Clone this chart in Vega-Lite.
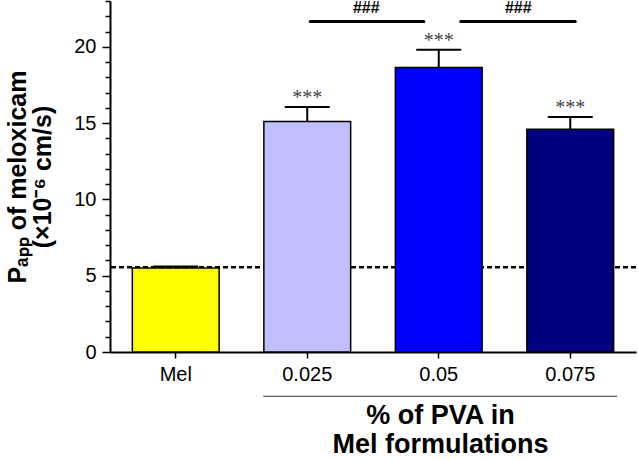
{
  "$schema": "https://vega.github.io/schema/vega-lite/v6.json",
  "width": 526,
  "height": 351,
  "autosize": "none",
  "padding": {"left": 110, "top": 1, "right": 2, "bottom": 109},
  "config": {"view": {"stroke": null}, "font": "Liberation Sans"},
  "datasets": {
    "bars": [
      {"g": "Mel", "v": 5.5, "hi": 5.6},
      {"g": "0.025", "v": 15.1, "hi": 16.05},
      {"g": "0.05", "v": 18.65, "hi": 19.8},
      {"g": "0.075", "v": 14.6, "hi": 15.4}
    ],
    "ref": [{"y": 5.55}],
    "sig1": [{"a": "0.025", "b": "0.05", "y": 21.66, "lab": "###"}],
    "sig2": [{"a": "0.05", "b": "0.075", "y": 21.66, "lab": "###"}],
    "under": [{"a": "0.025", "b": "0.075", "y": -2.9}]
  },
  "resolve": {"axis": {"y": "independent"}},
  "layer": [
    {
      "data": {"name": "ref"},
      "mark": {"type": "rule", "strokeDash": [5, 3], "strokeWidth": 2.5, "color": "black"},
      "encoding": {
        "y": {
          "field": "y", "type": "quantitative", "scale": {"domain": [0, 23], "nice": false},
          "axis": {
            "orient": "left",
            "values": [1,2,3,4,6,7,8,9,11,12,13,14,16,17,18,19,21,22,23],
            "labels": false, "domain": false, "grid": false, "title": null,
            "tickColor": "black", "tickWidth": 1.5, "tickSize": 5
          }
        }
      }
    },
    {
      "data": {"name": "bars"},
      "mark": {"type": "bar", "stroke": "black", "strokeWidth": 1.5},
      "encoding": {
        "x": {
          "field": "g", "type": "nominal",
          "scale": {"domain": ["Mel", "0.025", "0.05", "0.075"], "paddingInner": 0.34, "paddingOuter": 0.17},
          "axis": {
            "labelAngle": 0, "labelFontSize": 20, "labelColor": "black", "labelPadding": 6,
            "domainColor": "black", "domainWidth": 2, "tickColor": "black", "tickWidth": 1.5, "tickSize": 6,
            "title": ["% of PVA in", "Mel formulations"], "titleFontSize": 27, "titleFontWeight": "bold",
            "titleColor": "black", "titleLineHeight": 29, "titleX": 330, "titleY": 50, "titleBaseline": "top"
          }
        },
        "y": {
          "field": "v", "type": "quantitative",
          "axis": {
            "orient": "left",
            "values": [0, 5, 10, 15, 20],
            "labelOverlap": false, "labelFontSize": 20, "labelColor": "black", "labelPadding": 6,
            "grid": false, "domainColor": "black", "domainWidth": 2, "tickColor": "black", "tickWidth": 1.5,
            "tickSize": 8,
            "title": ["Pₐₚₚ of meloxicam", "(×10⁻⁶ cm/s)"], "titleFontSize": 25, "titleFontWeight": "bold",
            "titleColor": "black", "titleLineHeight": 25, "titleX": -80
          }
        },
        "color": {
          "field": "g", "type": "nominal",
          "scale": {"domain": ["Mel", "0.025", "0.05", "0.075"], "range": ["#FFFF00", "#C0C0FF", "#0000FF", "#000080"]},
          "legend": null
        }
      }
    },
    {
      "data": {"name": "bars"},
      "mark": {"type": "rule", "strokeWidth": 2, "color": "black"},
      "encoding": {
        "x": {"field": "g", "type": "nominal"},
        "y": {"field": "v", "type": "quantitative", "axis": null},
        "y2": {"field": "hi"}
      }
    },
    {
      "data": {"name": "bars"},
      "mark": {"type": "tick", "orient": "horizontal", "size": 45, "thickness": 2, "color": "black", "opacity": 1},
      "encoding": {
        "x": {"field": "g", "type": "nominal"},
        "y": {"field": "hi", "type": "quantitative", "axis": null}
      }
    },
    {
      "data": {"name": "bars"},
      "transform": [{"filter": "datum.g != 'Mel'"}],
      "mark": {"type": "text", "text": "***", "fontSize": 20, "font": "Liberation Serif", "color": "#444444", "baseline": "middle", "dy": -9},
      "encoding": {
        "x": {"field": "g", "type": "nominal"},
        "y": {"field": "hi", "type": "quantitative", "axis": null}
      }
    },
    {
      "data": {"name": "sig1"},
      "mark": {"type": "rule", "strokeWidth": 3, "strokeCap": "round", "color": "black", "xOffset": 3, "x2Offset": -15},
      "encoding": {
        "x": {"field": "a", "type": "nominal"},
        "x2": {"field": "b"},
        "y": {"field": "y", "type": "quantitative", "axis": null}
      }
    },
    {
      "data": {"name": "sig2"},
      "mark": {"type": "rule", "strokeWidth": 3, "strokeCap": "round", "color": "black", "xOffset": 22, "x2Offset": 5},
      "encoding": {
        "x": {"field": "a", "type": "nominal"},
        "x2": {"field": "b"},
        "y": {"field": "y", "type": "quantitative", "axis": null}
      }
    },
    {
      "data": {"name": "sig1"},
      "mark": {"type": "text", "fontSize": 16, "fontWeight": "bold", "color": "black", "baseline": "middle", "dy": -13, "dx": 59},
      "encoding": {
        "x": {"field": "a", "type": "nominal"},
        "y": {"field": "y", "type": "quantitative", "axis": null},
        "text": {"field": "lab"}
      }
    },
    {
      "data": {"name": "sig2"},
      "mark": {"type": "text", "fontSize": 16, "fontWeight": "bold", "color": "black", "baseline": "middle", "dy": -13, "dx": 79.5},
      "encoding": {
        "x": {"field": "a", "type": "nominal"},
        "y": {"field": "y", "type": "quantitative", "axis": null},
        "text": {"field": "lab"}
      }
    },
    {
      "data": {"name": "under"},
      "mark": {"type": "rule", "strokeWidth": 1, "color": "#333333", "xOffset": -44, "x2Offset": 47},
      "encoding": {
        "x": {"field": "a", "type": "nominal"},
        "x2": {"field": "b"},
        "y": {"field": "y", "type": "quantitative", "axis": null}
      }
    }
  ]
}
